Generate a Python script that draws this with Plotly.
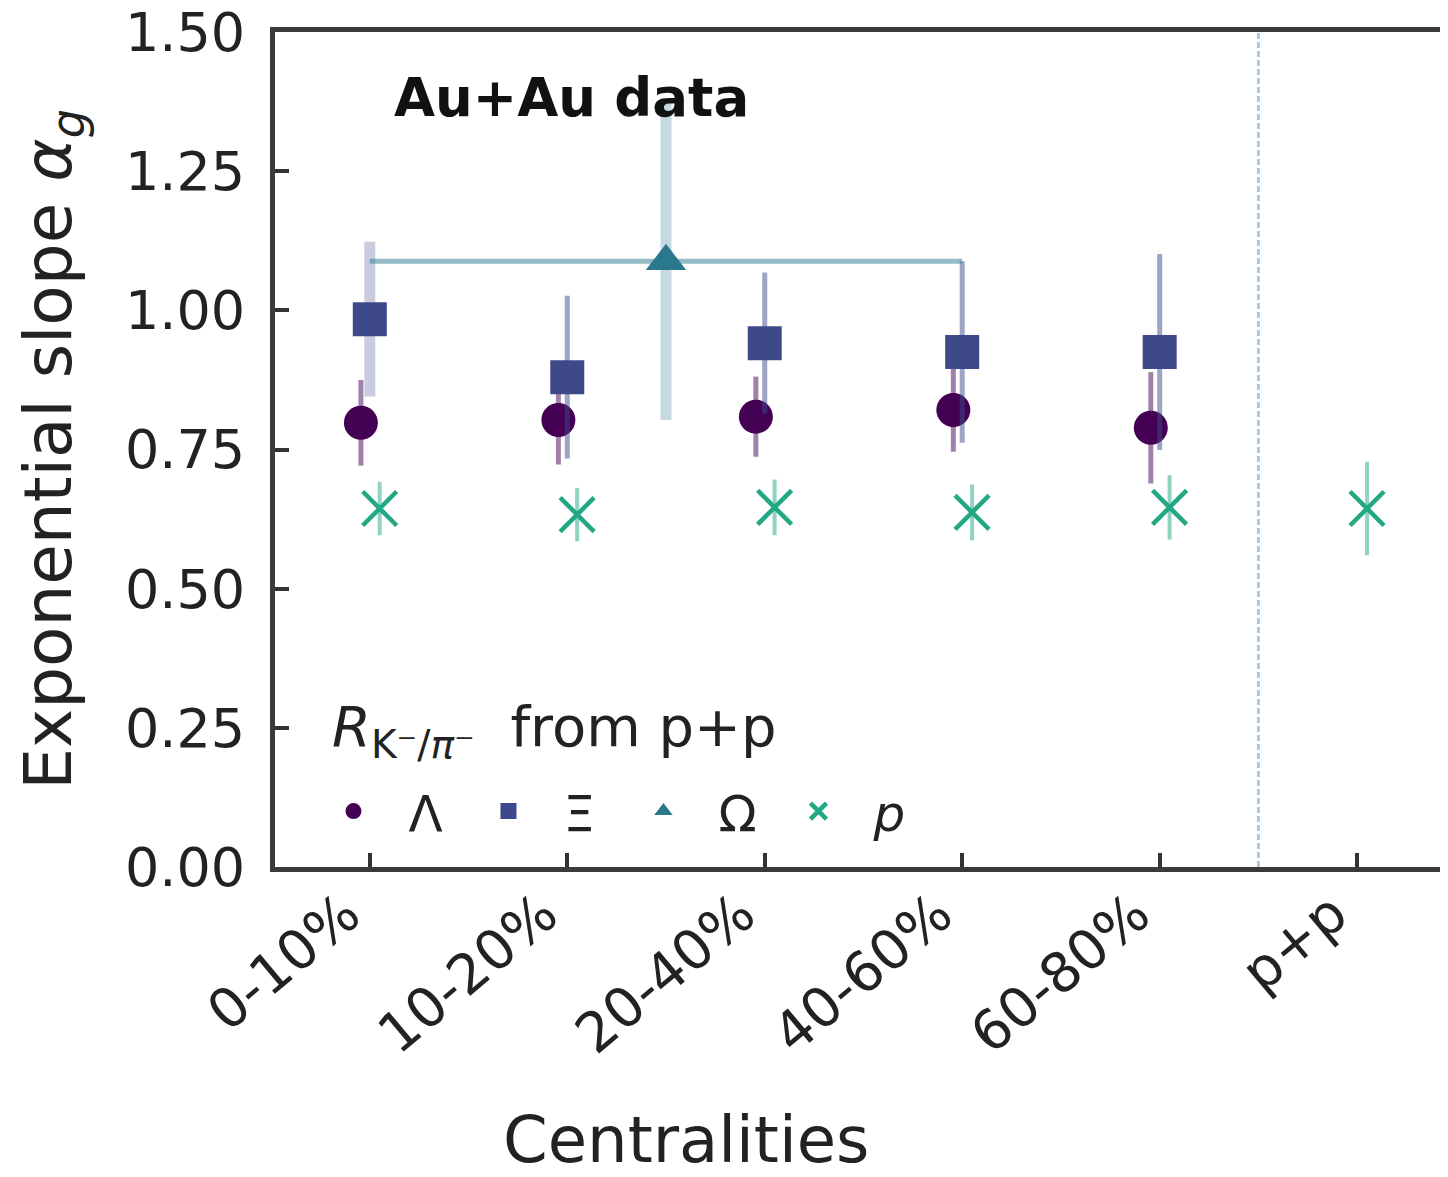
import plotly.graph_objects as go

# ---------------- data ----------------
categories = ["0-10%", "10-20%", "20-40%", "40-60%", "60-80%", "p+p"]

lambda_vals = [0.798, 0.803, 0.809, 0.821, 0.789]
lambda_err = [0.077, 0.080, 0.072, 0.075, 0.100]

xi_vals = [0.984, 0.880, 0.941, 0.925, 0.925]
xi_err = [0.139, 0.146, 0.127, 0.163, 0.176]

omega_span = ["0-10%", "40-60%"]   # Omega measured over 0-60%
omega_vals = [1.088]
omega_err = [0.285]

proton_vals = [0.644, 0.633, 0.646, 0.637, 0.646, 0.644]
proton_err = [0.048, 0.048, 0.050, 0.050, 0.058, 0.084]

y_ticks = [0, 0.25, 0.5, 0.75, 1.0, 1.25, 1.5]

# ---------------- styling ----------------
FONT = "DejaVu Sans"
C_LAM = "#440154"
C_XI = "#3e4989"
C_OM = "#2a788e"
C_P = "#22a884"

idx = list(range(len(categories)))
x_lam = [i - 0.045 for i in idx[:len(lambda_vals)]]
x_xi = idx[:len(xi_vals)]
x_p = [i + 0.05 for i in idx[:len(proton_vals)]]
i0, i1 = categories.index(omega_span[0]), categories.index(omega_span[1])
x_om = [(i0 + i1) / 2]
om_half = [(i1 - i0) / 2]

fig = go.Figure()

fig.add_trace(go.Scatter(
    x=x_lam, y=lambda_vals, mode="markers", name="Λ",
    marker=dict(symbol="circle", size=34, color=C_LAM),
    error_y=dict(type="data", array=lambda_err, thickness=5, width=0,
                 color="rgba(68,1,84,0.5)"),
))

# first Xi point has a lighter, wider band
fig.add_trace(go.Scatter(
    x=x_xi[:1], y=xi_vals[:1], mode="markers", showlegend=False,
    hoverinfo="skip", marker=dict(size=1, color="rgba(0,0,0,0)"),
    error_y=dict(type="data", array=xi_err[:1], thickness=11, width=0,
                 color="rgba(62,73,137,0.28)"),
))
fig.add_trace(go.Scatter(
    x=x_xi, y=xi_vals, mode="markers", name="Ξ",
    marker=dict(symbol="square", size=34, color=C_XI),
    error_y=dict(type="data", array=[0] + xi_err[1:], thickness=5, width=0,
                 color="rgba(62,73,137,0.5)"),
))

fig.add_trace(go.Scatter(
    x=x_om, y=omega_vals, mode="markers", name="Ω",
    marker=dict(symbol="triangle-up", size=35, color=C_OM),
    error_y=dict(type="data", array=omega_err, thickness=11, width=0,
                 color="rgba(42,120,142,0.27)"),
    error_x=dict(type="data", array=om_half, thickness=5, width=0,
                 color="rgba(42,120,142,0.5)"),
))

fig.add_trace(go.Scatter(
    x=x_p, y=proton_vals, mode="markers", name="<i>p</i>",
    marker=dict(symbol="x-thin-open", size=34, color=C_P,
                line=dict(width=4.5, color=C_P)),
    error_y=dict(type="data", array=proton_err, thickness=4, width=0,
                 color="rgba(34,168,132,0.5)"),
))

# separator between Au+Au centralities and p+p
sep = (categories.index("60-80%") + categories.index("p+p")) / 2
fig.add_shape(type="line", xref="x", yref="paper", x0=sep, x1=sep, y0=0, y1=1,
              line=dict(color="#a6cbe3", width=3, dash="6px,3px"), layer="below")

fig.update_layout(
    width=1440, height=1169,
    margin=dict(l=267, r=0, t=24, b=310, autoexpand=False),
    paper_bgcolor="white", plot_bgcolor="white",
    font=dict(family=FONT, size=50, color="#222222"),
    showlegend=True,
    legend=dict(orientation="h", x=0.02, xanchor="left", y=0.067, yanchor="middle",
                font=dict(family=FONT, size=50, color="#222222"),
                bgcolor="rgba(0,0,0,0)", entrywidth=40, entrywidthmode="pixels",
                itemwidth=100, tracegroupgap=0),
)

fig.update_xaxes(
    range=[-0.48, 5.46], tickmode="array", tickvals=idx, ticktext=categories,
    tickangle=-40, ticks="inside", ticklen=14, tickwidth=4, tickcolor="#333333",
    showline=True, linewidth=5, linecolor="#3a3a3a", mirror=True, automargin=False,
    showgrid=False, zeroline=False, ticklabelshift=-24, ticklabelstandoff=-12,
    tickfont=dict(family=FONT, size=55, color="#222222"),
)
fig.update_yaxes(
    range=[0, 1.5], tickmode="array", tickvals=y_ticks,
    tickformat=".2f", ticks="inside", ticklen=14, tickwidth=4, tickcolor="#333333",
    showline=True, linewidth=5, linecolor="#3a3a3a", mirror=False, automargin=False,
    showgrid=False, zeroline=False, ticklabelstandoff=14,
    ticklabeloverflow="allow",
    tickfont=dict(family=FONT, size=54, color="#222222"),
)

fig.add_annotation(text="<b>Au+Au data</b>", xref="paper", yref="paper",
                   x=0.1, y=0.922, xanchor="left", yanchor="middle", showarrow=False,
                   font=dict(family=FONT, size=53, color="#111111"))
fig.add_annotation(text="<i>R</i><sub>K⁻/<i>π</i>⁻</sub>  from p+p", xref="paper", yref="paper",
                   x=0.047, y=0.163, xanchor="left", yanchor="middle", showarrow=False,
                   font=dict(family=FONT, size=56, color="#222222"))
fig.add_annotation(text="Centralities", xref="paper", yref="paper",
                   x=(678 - 267) / 1173, y=-0.327, xanchor="center", yanchor="middle",
                   showarrow=False, font=dict(family=FONT, size=64, color="#222222"))
fig.add_annotation(text="Exponential slope <i>α</i><sub><i>g</i></sub>", xref="paper", yref="paper",
                   x=-0.19, y=0.5, xanchor="center", yanchor="middle", textangle=-90,
                   showarrow=False, font=dict(family=FONT, size=66, color="#222222"))

fig.write_html("out.html")
